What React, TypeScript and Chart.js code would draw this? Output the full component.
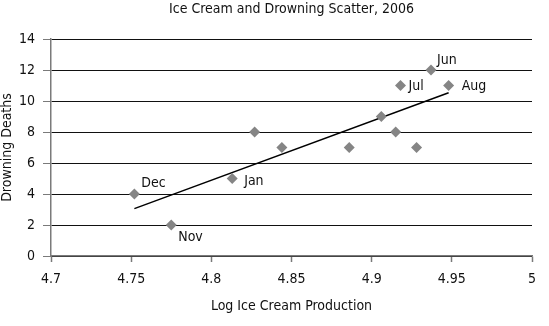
import React, { useEffect, useRef } from "react";
import { Chart, registerables } from "chart.js";

Chart.register(...registerables);

const chartTitle = "Ice Cream and Drowning Scatter, 2006";
const xAxisTitle = "Log Ice Cream Production";
const yAxisTitle = "Drowning Deaths";

const logProduction = [4.752, 4.775, 4.813, 4.827, 4.844, 4.886, 4.906, 4.915, 4.918, 4.937, 4.948, 4.928];
const drowningDeaths = [4, 2, 5, 8, 7, 7, 9, 8, 11, 12, 11, 7];
const monthLabels = ["Dec", "Nov", "Jan", "", "", "", "", "", "Jul", "Jun", "Aug", ""];

const FONT = "'Liberation Sans Narrow', 'DejaVu Sans Condensed', 'Arial Narrow', sans-serif";
const TEXT = "#111";

// label placement relative to point (styling only)
const labelOffsets: Record<string, [number, number]> = {
  Dec: [7, -11],
  Nov: [7, 12],
  Jan: [12, 3],
  Jun: [6, -10],
  Jul: [8, 1],
  Aug: [13, 1],
};

function regression(xs: number[], ys: number[]) {
  const n = xs.length;
  const mx = xs.reduce((a, b) => a + b, 0) / n;
  const my = ys.reduce((a, b) => a + b, 0) / n;
  let sxy = 0;
  let sxx = 0;
  for (let i = 0; i < n; i++) {
    sxy += (xs[i] - mx) * (ys[i] - my);
    sxx += (xs[i] - mx) * (xs[i] - mx);
  }
  const slope = sxy / sxx;
  return { slope, intercept: my - slope * mx };
}

const labelPlugin = {
  id: "pointLabels",
  afterDatasetsDraw(chart: any) {
    const meta = chart.getDatasetMeta(0);
    const ctx = chart.ctx;
    ctx.save();
    ctx.font = `14px ${FONT}`;
    ctx.fillStyle = TEXT;
    ctx.textAlign = "left";
    ctx.textBaseline = "middle";
    meta.data.forEach((el: any, i: number) => {
      const lbl = monthLabels[i];
      if (!lbl) return;
      const off = labelOffsets[lbl] || [6, 0];
      ctx.fillText(lbl, el.x + off[0], el.y + off[1]);
    });
    // chart title centred over the plot area
    const area = chart.chartArea;
    ctx.textAlign = "center";
    ctx.fillText(chartTitle, (area.left + area.right) / 2, 9);
    ctx.restore();
  },
};

export default function App() {
  const ref = useRef<HTMLCanvasElement | null>(null);

  useEffect(() => {
    if (!ref.current) return;
    const pts = logProduction.map((x, i) => ({ x, y: drowningDeaths[i] }));
    const { slope, intercept } = regression(logProduction, drowningDeaths);
    const xmin = Math.min(...logProduction);
    const xmax = Math.max(...logProduction);
    const trend = [
      { x: xmin, y: intercept + slope * xmin },
      { x: xmax, y: intercept + slope * xmax },
    ];

    const chart = new Chart(ref.current, {
      type: "scatter",
      data: {
        datasets: [
          {
            label: "Deaths",
            data: pts,
            pointStyle: "rectRot",
            pointRadius: 5.5,
            backgroundColor: "#858585",
            borderColor: "#858585",
            borderWidth: 0,
          },
          {
            type: "line",
            label: "Trend",
            data: trend,
            borderColor: "#000",
            borderWidth: 1.5,
            pointRadius: 0,
            showLine: true,
            fill: false,
          } as any,
        ],
      },
      options: {
        animation: false,
        responsive: false,
        layout: { padding: { left: 0, right: 17, top: 39, bottom: 0 } },
        plugins: {
          legend: { display: false },
          tooltip: { enabled: false },
          title: { display: false },
        },
        scales: {
          x: {
            type: "linear",
            min: 4.7,
            max: 5,
            ticks: {
              stepSize: 0.05,
              color: TEXT,
              font: { family: FONT, size: 14 },
              padding: 9,
              maxRotation: 0,
              callback: (v: any) => String(Number(Number(v).toFixed(2))),
            },
            grid: {
              drawOnChartArea: false,
              drawTicks: true,
              tickLength: 6,
              tickColor: "#7a7a7a",
              tickWidth: 1.5,
            },
            border: { color: "#7a7a7a", width: 1.5 },
            title: {
              display: true,
              text: xAxisTitle,
              color: TEXT,
              font: { family: FONT, size: 14, lineHeight: 1 },
              padding: { top: 0, bottom: 13 },
            },
            afterFit: (s: any) => {
              s.height = 70;
            },
          },
          y: {
            min: 0,
            max: 14,
            ticks: {
              stepSize: 2,
              color: TEXT,
              font: { family: FONT, size: 14 },
              padding: 8,
            },
            grid: {
              color: "#111",
              lineWidth: 1,
              tickLength: 8,
              tickColor: "#7a7a7a",
            },
            border: { color: "#7a7a7a", width: 1.5 },
            title: {
              display: true,
              text: yAxisTitle,
              color: TEXT,
              font: { family: FONT, size: 14, lineHeight: 1 },
              padding: { top: 0, bottom: 0 },
            },
            afterFit: (s: any) => {
              s.width = 51;
            },
          },
        },
      },
      plugins: [labelPlugin],
    });
    return () => chart.destroy();
  }, []);

  return (
    <div style={{ position: "fixed", left: 0, top: 0, width: 549, height: 326, background: "#fff" }}>
      <canvas ref={ref} width={549} height={326} />
    </div>
  );
}
